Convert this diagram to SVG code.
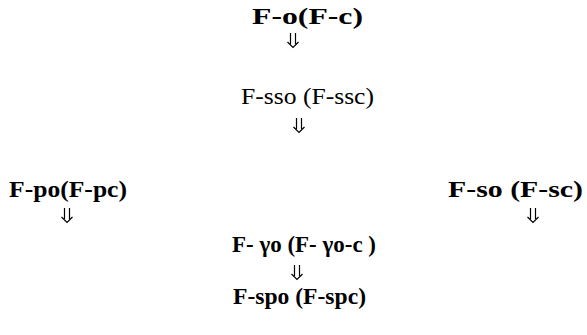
<svg xmlns="http://www.w3.org/2000/svg" width="587" height="335" viewBox="0 0 587 335">
<style>
.t{font-size:24px;fill:#000;text-anchor:middle}
.b{font-weight:bold}
.arr{fill:none;stroke:#000;stroke-width:1.2}
</style>
<defs>
<path id="dar" class="arr" d="M-2.5,0 V11 M2.5,0 V11 M-5.5,9 L0,14.5 L5.5,9"/>
</defs>
<rect width="587" height="335" fill="#fff"/>
<g font-family="Liberation Serif, Times New Roman, serif">
<g id="n1"><text class="t b" x="307.5" y="24" textLength="111" lengthAdjust="spacingAndGlyphs">F-o(F-c)</text></g>
<g id="n2"><text class="t" x="307.5" y="104" textLength="133" lengthAdjust="spacingAndGlyphs">F-sso (F-ssc)</text></g>
<g id="n3"><text class="t b" x="68" y="197" textLength="118" lengthAdjust="spacingAndGlyphs">F-po(F-pc)</text></g>
<g id="n4"><text class="t b" x="515.5" y="197" textLength="135" lengthAdjust="spacingAndGlyphs">F-so (F-sc)</text></g>
<g id="n5"><text class="t b" x="304" y="252" textLength="144" lengthAdjust="spacingAndGlyphs">F- γo (F- γo-c )</text></g>
<g id="n6"><text class="t b" x="299.5" y="304" textLength="133" lengthAdjust="spacingAndGlyphs">F-spo (F-spc)</text></g>
</g>
<g id="connectors">
<use href="#dar" x="293" y="33"/>
<use href="#dar" x="299" y="118"/>
<use href="#dar" x="67" y="208"/>
<use href="#dar" x="533" y="208"/>
<use href="#dar" x="297" y="265"/>
</g>
</svg>
